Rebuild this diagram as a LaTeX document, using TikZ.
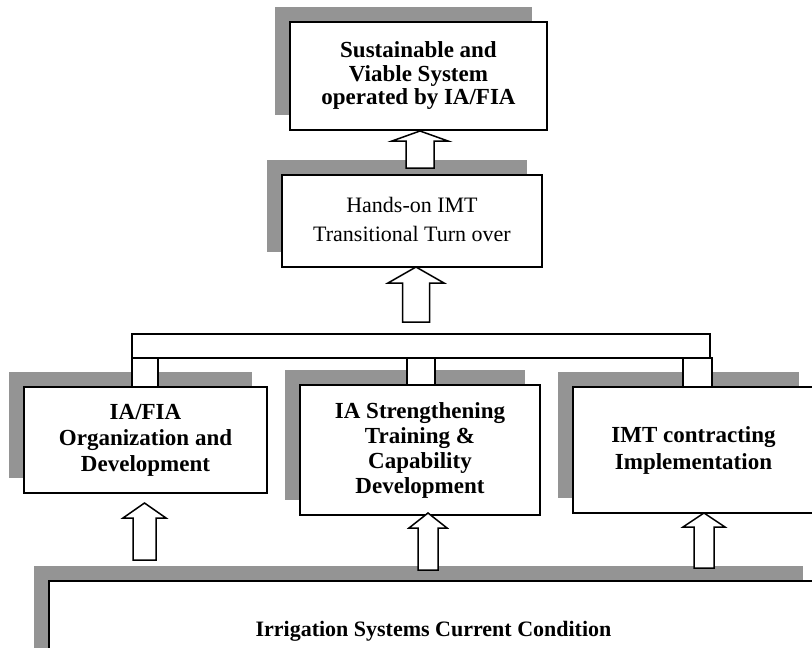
\documentclass[tikz,border=0pt]{standalone}
\usepackage{fontspec}
\setmainfont{Liberation Serif}
\usetikzlibrary{shadows}
% #1 x of axis, #2 tip y, #3 head base y, #4 stem bottom y, #5 head half width, #6 stem half width
\newcommand\blockup[6]{%
  \draw[blk] (#1,#2) -- (#1+#5,#3) -- (#1+#6,#3) -- (#1+#6,#4) -- (#1-#6,#4) -- (#1-#6,#3) -- (#1-#5,#3) -- cycle;}
\begin{document}
\begin{tikzpicture}[x=1pt,y=-1pt,
  box/.style={draw, line width=1.6pt, fill=white, align=center, inner sep=0pt,
    drop shadow={shadow xshift=-15pt, shadow yshift=15pt, fill=black!42, opacity=1}},
  bold/.style={font=\fontsize{23}{#1}\selectfont\bfseries},
  plain/.style={font=\fontsize{22}{#1}\selectfont},
  blk/.style={draw, line width=1.5pt, fill=white, line join=miter},
  link/.style={draw, line width=1.5pt, fill=white}]
\useasboundingbox (0,0) rectangle (812,648);
\clip (0,0) rectangle (812,648);

% boxes
\node[box, bold=23.5, minimum width=257pt, minimum height=108pt] (top) at (418.5,76)
  {Sustainable and\\Viable System\\operated by IA/FIA};
\node[box, plain=29, minimum width=260pt, minimum height=92pt] (hands) at (412,221)
  {\raisebox{5pt}{\begin{tabular}{@{}c@{}}Hands-on IMT\\Transitional Turn over\end{tabular}}};
\node[box, bold=26, minimum width=243pt, minimum height=106pt] (b1) at (145.5,440)
  {IA/FIA\\Organization and\\Development};
\node[box, bold=25, minimum width=240pt, minimum height=130pt] (b2) at (420,450)
  {IA Strengthening\\Training \&\\Capability\\Development};
\node[box, bold=27, minimum width=241pt, minimum height=126pt] (b3) at (693.5,450)
  {IMT contracting\\Implementation};
\node[box, font=\fontsize{22}{24}\selectfont\bfseries, minimum width=769pt, minimum height=100pt] (base) at (433.5,631)
  {Irrigation Systems Current Condition};

% distribution bar and stubs
\node[link, minimum width=578pt, minimum height=24pt, inner sep=0pt] (bar) at (421,346) {};
\draw[link] (132,358) rectangle (158,387);
\draw[link] (407,358) rectangle (435,385);
\draw[link] (683,358) rectangle (712,387);

% block arrows
\blockup{420}{131}{141}{168}{28}{14}
\blockup{416}{267}{283}{322}{28}{13.5}
\blockup{144.5}{503}{518}{560}{21.5}{11.5}
\blockup{428}{513}{528}{570}{19}{10}
\blockup{704}{513}{527}{568}{21}{10}
\end{tikzpicture}
\end{document}
